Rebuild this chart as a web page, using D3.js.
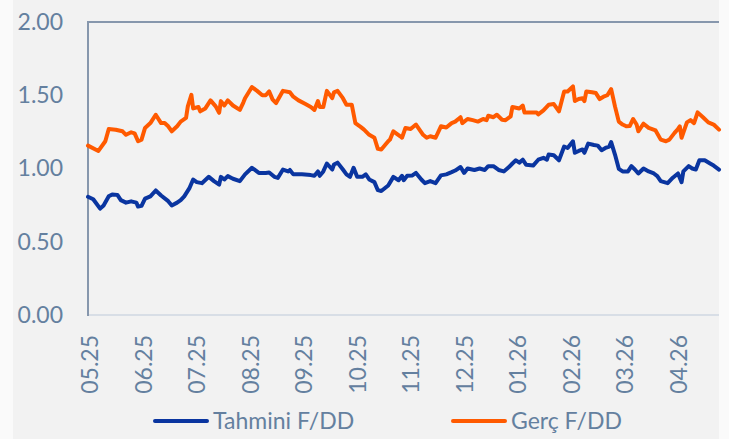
<!DOCTYPE html>
<html><head><meta charset="utf-8">
<script src="https://cdn.jsdelivr.net/npm/d3@7"></script>
<style>
html,body{margin:0;padding:0;background:#fafafa;}
svg{display:block;}
text{font-family:Lato,"Open Sans",sans-serif;fill:#64809f;}
</style></head>
<body>
<svg id="chart" width="729" height="439"></svg>
<script>
// ---------------- data ----------------
const xTickLabels = ['05.25','06.25','07.25','08.25','09.25','10.25','11.25','12.25','01.26','02.26','03.26','04.26'];
const yTicks = [0, 0.5, 1, 1.5, 2];
const seriesNames = ['Tahmini F/DD', 'Gerç F/DD'];

const tahminiDates = ['2025-04-30','2025-05-03','2025-05-07','2025-05-09','2025-05-12','2025-05-14','2025-05-17','2025-05-19','2025-05-22','2025-05-25','2025-05-28','2025-05-29','2025-05-31',
'2025-06-02','2025-06-05','2025-06-08','2025-06-11','2025-06-15','2025-06-17','2025-06-20','2025-06-22','2025-06-24','2025-06-27','2025-06-29',
'2025-07-01','2025-07-04','2025-07-08','2025-07-11','2025-07-14','2025-07-15','2025-07-17','2025-07-19','2025-07-22','2025-07-26','2025-07-29',
'2025-08-02','2025-08-06','2025-08-10','2025-08-12','2025-08-15','2025-08-17','2025-08-20','2025-08-23','2025-08-24','2025-08-26','2025-08-31',
'2025-09-05','2025-09-07','2025-09-09','2025-09-10','2025-09-12','2025-09-14','2025-09-17','2025-09-18','2025-09-20','2025-09-23','2025-09-25','2025-09-27','2025-09-29',
'2025-10-01','2025-10-04','2025-10-06','2025-10-08','2025-10-11','2025-10-13','2025-10-15','2025-10-19','2025-10-22','2025-10-25','2025-10-27','2025-10-28','2025-10-30',
'2025-11-02','2025-11-04','2025-11-07','2025-11-09','2025-11-12','2025-11-15','2025-11-18','2025-11-21','2025-11-24','2025-11-26','2025-11-29',
'2025-12-01','2025-12-03','2025-12-07','2025-12-10','2025-12-13','2025-12-15','2025-12-18','2025-12-21','2025-12-24','2025-12-27','2025-12-29','2025-12-31',
'2026-01-02','2026-01-04','2026-01-06','2026-01-10','2026-01-13','2026-01-16','2026-01-18','2026-01-19','2026-01-22','2026-01-25','2026-01-28','2026-01-30',
'2026-02-02','2026-02-03','2026-02-05','2026-02-07','2026-02-08','2026-02-10','2026-02-13','2026-02-15','2026-02-17','2026-02-19','2026-02-21','2026-02-22','2026-02-24','2026-02-26','2026-02-28',
'2026-03-03','2026-03-05','2026-03-07','2026-03-09','2026-03-12','2026-03-15','2026-03-18','2026-03-20','2026-03-22','2026-03-26','2026-03-29',
'2026-04-01','2026-04-03','2026-04-04','2026-04-07','2026-04-09','2026-04-11','2026-04-13','2026-04-16','2026-04-19','2026-04-21','2026-04-24'];
const tahminiValues = [0.807,0.79,0.726,0.748,0.81,0.823,0.82,0.784,0.767,0.776,0.767,0.74,0.745,
0.794,0.81,0.85,0.816,0.777,0.748,0.767,0.784,0.81,0.868,0.925,
0.907,0.90,0.943,0.914,0.89,0.943,0.925,0.948,0.93,0.914,0.96,
1.005,0.97,0.97,0.973,0.943,0.936,0.993,0.98,0.99,0.96,0.96,
0.955,0.95,0.98,0.95,0.98,1.034,0.993,1.027,1.04,0.993,0.96,0.943,1.005,
0.943,0.943,0.96,0.925,0.907,0.852,0.846,0.884,0.943,0.92,0.95,0.92,0.95,
0.953,0.97,0.925,0.90,0.914,0.90,0.953,0.96,0.975,0.986,1.01,
0.97,1.0,0.99,1.0,0.99,1.016,1.016,0.99,0.98,1.01,1.034,1.056,
1.04,1.06,1.025,1.02,1.06,1.073,1.06,1.095,1.09,1.056,1.15,1.14,
1.186,1.107,1.12,1.13,1.107,1.17,1.16,1.156,1.125,1.14,1.15,1.18,1.095,0.998,0.98,
0.98,1.016,0.993,0.966,1.0,0.98,0.966,0.948,0.914,0.90,0.937,
0.966,0.907,0.98,1.016,1.0,0.993,1.056,1.056,1.034,1.02,0.993];

const gercDates = ['2025-04-30','2025-05-06','2025-05-10','2025-05-12','2025-05-16','2025-05-20','2025-05-22','2025-05-25','2025-05-27','2025-05-29','2025-05-31',
'2025-06-02','2025-06-05','2025-06-08','2025-06-11','2025-06-13','2025-06-15','2025-06-17','2025-06-20','2025-06-22','2025-06-25','2025-06-26','2025-06-28','2025-06-29',
'2025-07-02','2025-07-03','2025-07-06','2025-07-09','2025-07-12','2025-07-14','2025-07-15','2025-07-17','2025-07-19','2025-07-22','2025-07-26','2025-07-28','2025-07-29',
'2025-08-02','2025-08-05','2025-08-08','2025-08-10','2025-08-12','2025-08-14','2025-08-16','2025-08-20','2025-08-24','2025-08-26','2025-08-29',
'2025-09-02','2025-09-05','2025-09-07','2025-09-09','2025-09-10','2025-09-12','2025-09-14','2025-09-17','2025-09-18','2025-09-20','2025-09-23','2025-09-25','2025-09-28','2025-09-30',
'2025-10-03','2025-10-05','2025-10-08','2025-10-11','2025-10-13','2025-10-15','2025-10-19','2025-10-20','2025-10-22','2025-10-26','2025-10-27','2025-10-29',
'2025-11-01','2025-11-04','2025-11-08','2025-11-10','2025-11-12','2025-11-15','2025-11-18','2025-11-21','2025-11-24','2025-11-26','2025-11-29','2025-11-30',
'2025-12-03','2025-12-06','2025-12-09','2025-12-12','2025-12-14','2025-12-15','2025-12-18','2025-12-20','2025-12-23','2025-12-25','2025-12-28','2025-12-29',
'2026-01-02','2026-01-04','2026-01-05','2026-01-08','2026-01-12','2026-01-13','2026-01-16','2026-01-19','2026-01-22','2026-01-25','2026-01-28','2026-01-30',
'2026-02-02','2026-02-03','2026-02-05','2026-02-07','2026-02-08','2026-02-09','2026-02-12','2026-02-14','2026-02-16','2026-02-18','2026-02-20','2026-02-22','2026-02-24','2026-02-26','2026-02-28',
'2026-03-02','2026-03-04','2026-03-06','2026-03-08','2026-03-09','2026-03-12','2026-03-15','2026-03-19','2026-03-22','2026-03-25','2026-03-27','2026-03-30',
'2026-04-01','2026-04-02','2026-04-03','2026-04-06','2026-04-08','2026-04-10','2026-04-12','2026-04-15','2026-04-18','2026-04-21','2026-04-24'];
const gercValues = [1.156,1.12,1.186,1.27,1.265,1.254,1.23,1.247,1.24,1.186,1.197,
1.277,1.31,1.367,1.31,1.31,1.288,1.254,1.288,1.32,1.345,1.424,1.503,1.41,
1.42,1.39,1.41,1.465,1.424,1.38,1.46,1.43,1.465,1.43,1.40,1.45,1.48,
1.556,1.53,1.50,1.50,1.526,1.47,1.447,1.53,1.52,1.49,1.465,
1.44,1.42,1.40,1.46,1.42,1.42,1.53,1.48,1.52,1.53,1.48,1.435,1.435,1.31,
1.284,1.265,1.23,1.21,1.134,1.13,1.186,1.197,1.254,1.22,1.21,1.277,
1.27,1.30,1.23,1.21,1.22,1.21,1.288,1.28,1.31,1.32,1.35,1.31,
1.338,1.33,1.32,1.338,1.33,1.36,1.35,1.367,1.333,1.33,1.356,1.42,
1.41,1.43,1.383,1.383,1.383,1.37,1.397,1.435,1.44,1.39,1.526,1.526,
1.56,1.46,1.474,1.48,1.46,1.526,1.52,1.515,1.474,1.49,1.50,1.542,1.424,1.32,1.30,
1.288,1.29,1.338,1.30,1.254,1.306,1.277,1.26,1.197,1.186,1.197,1.243,
1.27,1.288,1.21,1.315,1.33,1.31,1.383,1.35,1.315,1.30,1.265];

// ---------------- helpers ----------------
const parse = d3.timeParse('%Y-%m-%d');
// evenly spaced months (category-style date axis): month index + fraction of month
function monthPos(d){
  const y = d.getFullYear(), m = d.getMonth();
  const dim = new Date(y, m + 1, 0).getDate();
  return (y - 2025) * 12 + (m - 4) + (d.getDate() - 1) / dim;
}
const tahmini = tahminiDates.map((d,i)=>({t:monthPos(parse(d)), v:tahminiValues[i]}));
const gerc = gercDates.map((d,i)=>({t:monthPos(parse(d)), v:gercValues[i]}));
const tickPos = xTickLabels.map(l=>{const [mm,yy]=l.split('.'); return monthPos(new Date(2000+ +yy, +mm-1, 1));});

// ---------------- layout ----------------
const W = 729, H = 439;
const plot = {left: 88, right: 719, top: 22, bottom: 315};
const svg = d3.select('#chart');

svg.append('rect').attr('x',13).attr('y',0).attr('width',plot.right-13).attr('height',H).attr('fill','#f2f2f2');

const allT = tahmini.concat(gerc).map(d=>d.t);
const x = d3.scaleLinear().domain([d3.min(allT), d3.max(allT)]).range([plot.left, plot.right]);
const y = d3.scaleLinear().domain([0, 2]).range([plot.bottom, plot.top]);

// frame
svg.append('line').attr('x1',plot.left).attr('x2',plot.right).attr('y1',plot.bottom).attr('y2',plot.bottom)
  .attr('stroke','#cfd7e2').attr('stroke-width',1.6);
svg.append('line').attr('x1',plot.left).attr('x2',plot.right).attr('y1',plot.top).attr('y2',plot.top)
  .attr('stroke','#8797ad').attr('stroke-width',2);
svg.append('line').attr('x1',plot.left).attr('x2',plot.left).attr('y1',plot.top-1).attr('y2',plot.bottom+1)
  .attr('stroke','#8797ad').attr('stroke-width',2);

// y axis labels
const yAxis = d3.axisLeft(y).tickValues(yTicks).tickFormat(d3.format('.2f')).tickSize(0).tickPadding(25);
const gy = svg.append('g').attr('transform',`translate(${plot.left},0)`).call(yAxis);
gy.select('.domain').remove();
gy.selectAll('text').attr('font-size',23).attr('fill','#64809f').style('font-family','Lato, "Open Sans", sans-serif');

// x axis labels
const xAxis = d3.axisBottom(x).tickValues(tickPos).tickFormat((d,i)=>xTickLabels[i]).tickSize(0);
const gx = svg.append('g').attr('transform',`translate(0,${plot.bottom})`).call(xAxis);
gx.select('.domain').remove();
gx.selectAll('text').attr('font-size',23).attr('fill','#64809f').style('font-family','Lato, "Open Sans", sans-serif')
  .attr('transform','rotate(-90)').attr('text-anchor','end').attr('dy','0.35em').attr('x',-20).attr('y',0);

// lines
const line = d3.line().x(d=>x(d.t)).y(d=>y(d.v));
svg.append('path').datum(tahmini).attr('d',line).attr('fill','none').attr('stroke','#0a35a0').attr('stroke-width',4).attr('stroke-linejoin','round').attr('stroke-linecap','round');
svg.append('path').datum(gerc).attr('d',line).attr('fill','none').attr('stroke','#ff5a00').attr('stroke-width',4).attr('stroke-linejoin','round').attr('stroke-linecap','round');

// legend
const legend = [{name:seriesNames[0], color:'#0a35a0', x:155},{name:seriesNames[1], color:'#ff5a00', x:453}];
const lg = svg.append('g').selectAll('g').data(legend).join('g').attr('transform',d=>`translate(${d.x},421)`);
lg.append('line').attr('x1',0).attr('x2',52).attr('y1',0).attr('y2',0).attr('stroke',d=>d.color).attr('stroke-width',4).attr('stroke-linecap','round');
lg.append('text').attr('x',58).attr('y',0).attr('dy','0.35em').attr('font-size',23).text(d=>d.name);
</script>
</body></html>
